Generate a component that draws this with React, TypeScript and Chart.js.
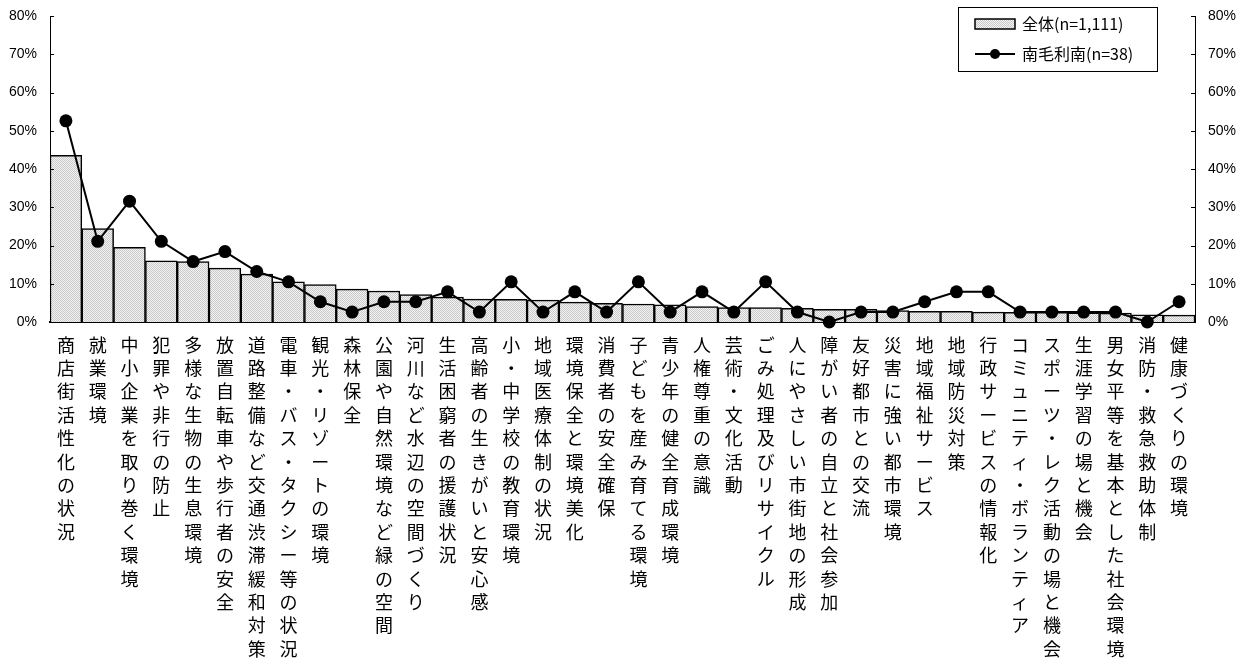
import { useEffect, useRef } from 'react';
import { Chart, registerables } from 'chart.js';

Chart.register(...registerables);

const categories = [
  '商店街活性化の状況',
  '就業環境',
  '中小企業を取り巻く環境',
  '犯罪や非行の防止',
  '多様な生物の生息環境',
  '放置自転車や歩行者の安全',
  '道路整備など交通渋滞緩和対策',
  '電車・バス・タクシー等の状況',
  '観光・リゾートの環境',
  '森林保全',
  '公園や自然環境など緑の空間',
  '河川など水辺の空間づくり',
  '生活困窮者の援護状況',
  '高齢者の生きがいと安心感',
  '小・中学校の教育環境',
  '地域医療体制の状況',
  '環境保全と環境美化',
  '消費者の安全確保',
  '子どもを産み育てる環境',
  '青少年の健全育成環境',
  '人権尊重の意識',
  '芸術・文化活動',
  'ごみ処理及びリサイクル',
  '人にやさしい市街地の形成',
  '障がい者の自立と社会参加',
  '友好都市との交流',
  '災害に強い都市環境',
  '地域福祉サービス',
  '地域防災対策',
  '行政サービスの情報化',
  'コミュニティ・ボランティア',
  'スポーツ・レク活動の場と機会',
  '生涯学習の場と機会',
  '男女平等を基本とした社会環境',
  '消防・救急救助体制',
  '健康づくりの環境',
];

const totalValues = [
  43.6, 24.4, 19.5, 16.0, 15.8, 14.1, 12.5, 10.5, 9.8, 8.6, 8.1, 7.2,
  6.5, 6.0, 5.9, 5.7, 5.2, 4.9, 4.7, 4.5, 4.0, 3.8, 3.8, 3.6,
  3.3, 3.3, 3.0, 2.8, 2.8, 2.6, 2.5, 2.5, 2.4, 2.3, 1.9, 1.8,
];

const areaValues = [
  52.6, 21.1, 31.6, 21.1, 15.8, 18.4, 13.2, 10.5, 5.3, 2.6, 5.3, 5.3,
  7.9, 2.6, 10.5, 2.6, 7.9, 2.6, 10.5, 2.6, 7.9, 2.6, 10.5, 2.6,
  0, 2.6, 2.6, 5.3, 7.9, 7.9, 2.6, 2.6, 2.6, 2.6, 0, 5.3,
];

const seriesLabels = ['全体(n=1,111)', '南毛利南(n=38)'];

const yTickLabels = ['0%', '10%', '20%', '30%', '40%', '50%', '60%', '70%', '80%'];

const CJK = '"Noto Sans CJK JP", "Noto Sans CJK SC", sans-serif';

function makePattern(): CanvasPattern | string {
  const c = document.createElement('canvas');
  c.width = 2;
  c.height = 2;
  const g = c.getContext('2d');
  if (!g) return '#dcdcdc';
  g.fillStyle = '#f4f4f4';
  g.fillRect(0, 0, 2, 2);
  g.fillStyle = '#c8c8c8';
  g.fillRect(0, 0, 1, 1);
  g.fillRect(1, 1, 1, 1);
  const p = g.createPattern(c, 'repeat');
  return p || '#dcdcdc';
}

export default function App() {
  const ref = useRef<HTMLCanvasElement | null>(null);

  useEffect(() => {
    document.body.style.margin = '0';
    const canvas = ref.current;
    if (!canvas) return;
    const pattern = makePattern();

    const tickMarks = {
      id: 'tickMarks',
      afterDraw(chart: any) {
        const { ctx, chartArea } = chart;
        const yl = chart.scales.y;
        ctx.save();
        ctx.strokeStyle = '#000';
        ctx.lineWidth = 1;
        yl.ticks.forEach((t: any) => {
          const py = Math.round(yl.getPixelForValue(t.value)) + 0.5;
          ctx.beginPath();
          ctx.moveTo(chartArea.left, py);
          ctx.lineTo(chartArea.left + 4, py);
          ctx.moveTo(chartArea.right - 4, py);
          ctx.lineTo(chartArea.right, py);
          ctx.stroke();
        });
        ctx.restore();
      },
    };

    const boxLegend = {
      id: 'boxLegend',
      afterDraw(chart: any) {
        const { ctx, chartArea } = chart;
        const w = 199;
        const h = 64;
        const x0 = chartArea.right - 237;
        const y0 = chartArea.top - 9;
        const dsBar = chart.data.datasets[1];
        const dsLine = chart.data.datasets[0];
        ctx.save();
        ctx.fillStyle = '#fff';
        ctx.fillRect(x0, y0, w, h);
        ctx.strokeStyle = '#000';
        ctx.lineWidth = 1;
        ctx.strokeRect(x0 + 0.5, y0 + 0.5, w, h);

        // bar swatch
        ctx.fillStyle = pattern as any;
        ctx.fillRect(x0 + 17, y0 + 12, 40, 10);
        ctx.lineWidth = 1.5;
        ctx.strokeRect(x0 + 17, y0 + 12, 40, 10);

        // line swatch
        ctx.lineWidth = 2;
        ctx.beginPath();
        ctx.moveTo(x0 + 17, y0 + 47);
        ctx.lineTo(x0 + 57, y0 + 47);
        ctx.stroke();
        ctx.fillStyle = '#000';
        ctx.beginPath();
        ctx.arc(x0 + 37, y0 + 47, 5, 0, Math.PI * 2);
        ctx.fill();

        ctx.font = `16px ${CJK}`;
        ctx.textBaseline = 'middle';
        ctx.textAlign = 'left';
        ctx.fillStyle = '#000';
        ctx.fillText(dsBar.label, x0 + 64, y0 + 17);
        ctx.fillText(dsLine.label, x0 + 64, y0 + 47);
        ctx.restore();
      },
    };

    const fitY = (w: number) => (scale: any) => {
      scale.width = w;
      scale.paddingTop = 0;
      scale.paddingBottom = 0;
    };

    const chart = new Chart(canvas, {
      type: 'bar',
      data: {
        labels: categories.map((c) => Array.from(c)),
        datasets: [
          {
            type: 'line',
            label: seriesLabels[1],
            data: areaValues,
            borderColor: '#000',
            backgroundColor: '#000',
            borderWidth: 2,
            pointRadius: 6.5,
            pointBackgroundColor: '#000',
            pointBorderColor: '#000',
            pointBorderWidth: 0,
            tension: 0,
            fill: false,
            clip: false as any,
            yAxisID: 'y',
            order: 0,
          } as any,
          {
            type: 'bar',
            label: seriesLabels[0],
            data: totalValues,
            backgroundColor: pattern as any,
            borderColor: '#000',
            borderWidth: 1.5,
            barPercentage: 1,
            categoryPercentage: 1,
            yAxisID: 'y',
            order: 1,
          } as any,
        ],
      },
      options: {
        responsive: false,
        animation: false,
        devicePixelRatio: 1,
        layout: { padding: { top: 16, left: 0, right: 0, bottom: 0 } },
        plugins: {
          legend: { display: false },
          tooltip: { enabled: false },
          title: { display: false },
        },
        scales: {
          x: {
            type: 'category',
            offset: true,
            grid: { display: false, drawTicks: false },
            border: { display: true, color: '#000', width: 2 },
            ticks: {
              autoSkip: false,
              maxRotation: 0,
              minRotation: 0,
              padding: 11,
              color: '#000',
              font: { family: CJK, size: 18, lineHeight: 1.3 },
            },
            afterFit(scale: any) {
              scale.height = 344;
            },
          },
          y: {
            position: 'left',
            min: 0,
            max: 80,
            grid: { display: false, drawTicks: false },
            border: { display: true, color: '#000', width: 1 },
            ticks: {
              stepSize: 10,
              padding: 13,
              color: '#000',
              font: { family: '"Liberation Sans", Arial, sans-serif', size: 14 },
              callback: (_v: any, i: number) => yTickLabels[i],
            },
            afterFit: fitY(50),
          },
          y2: {
            position: 'right',
            min: 0,
            max: 80,
            grid: { display: false, drawTicks: false },
            border: { display: true, color: '#000', width: 1 },
            ticks: {
              stepSize: 10,
              padding: 13,
              color: '#000',
              font: { family: '"Liberation Sans", Arial, sans-serif', size: 14 },
              callback: (_v: any, i: number) => yTickLabels[i],
            },
            afterFit: fitY(53),
          },
        },
      },
      plugins: [tickMarks, boxLegend],
    });

    return () => {
      chart.destroy();
    };
  }, []);

  return (
    <div style={{ width: 1248, height: 666, position: 'relative', background: '#fff' }}>
      <canvas ref={ref} width={1248} height={666} style={{ display: 'block' }} />
    </div>
  );
}
